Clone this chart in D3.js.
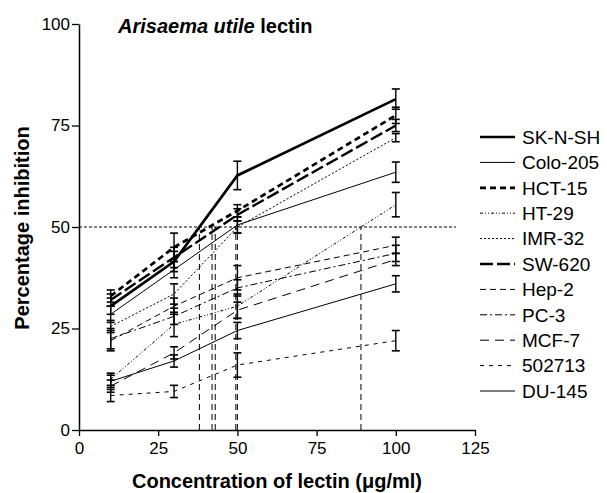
<!DOCTYPE html>
<html>
<head>
<meta charset="utf-8">
<script src="https://cdn.jsdelivr.net/npm/d3@7"></script>
<style>
  body { margin: 0; background: #fff; }
  text { font-family: "Liberation Sans", Arial, sans-serif; }
</style>
</head>
<body>
<div id="chart"></div>
<script>
// concentrations (ug/ml)
var concentrations = [10, 30, 50, 100];
var cellLines = ["SK-N-SH", "Colo-205", "HCT-15", "HT-29", "IMR-32", "SW-620", "Hep-2", "PC-3", "MCF-7", "502713", "DU-145"];
// percentage inhibition per cell line, one value per concentration
var inhibition = [
  [30.5, 41.5, 62.7, 81.5],
  [28.5, 39.5, 50.5, 63.5],
  [33, 45, 54, 77.5],
  [12.5, 26, 30.5, 55.5],
  [25.5, 33.5, 50, 72],
  [32, 42.5, 53, 75],
  [22, 30.5, 37.5, 45.5],
  [22.5, 28, 35, 43.5],
  [10.8, 19, 29.5, 42],
  [8.5, 9.5, 16, 22],
  [12, 17, 24.5, 36]
];
var errors = [
  [2, 2.5, 3.5, 2.5],
  [2, 2, 2, 2.5],
  [1.5, 3.5, 1.5, 2],
  [1.5, 3, 3, 3],
  [1.5, 2.5, 1.5, 1],
  [1.5, 2.5, 1.5, 1.5],
  [2.5, 2, 3, 2],
  [2.5, 2, 2, 2],
  [1.5, 1.5, 2, 1.5],
  [1.5, 1.5, 3, 2.5],
  [1.5, 1.5, 2, 2]
];
// IC50 drop lines
var ic50 = [38, 42, 43, 49.5, 50, 89];
var xTicks = [0, 25, 50, 75, 100, 125];
var yTicks = [0, 25, 50, 75, 100];

var widths = [2.7, 1, 2.7, 1, 1, 2.4, 1, 1, 1, 1, 1];
var dashes = ["none", "none", "6,4", "3,2,1,2,1,2", "2,2", "13,4", "6,4", "7,3,2,3", "9,6", "4,5", "none"];

var width = 607, height = 493;
var svg = d3.select("#chart").append("svg")
  .attr("width", width).attr("height", height);

var xScale = d3.scaleLinear().domain([0, 125]).range([79, 475]);
var yScale = d3.scaleLinear().domain([0, 100]).range([430, 24]);

// reference line at 50%
svg.append("line")
  .attr("x1", xScale(0)).attr("x2", xScale(119))
  .attr("y1", yScale(50)).attr("y2", yScale(50))
  .style("stroke", "#000").style("stroke-width", 1).style("stroke-dasharray", "3,2");

svg.selectAll(".ic").data(ic50).enter().append("line")
  .attr("class", "ic")
  .attr("x1", function(d){ return xScale(d); })
  .attr("x2", function(d){ return xScale(d); })
  .attr("y1", yScale(0)).attr("y2", yScale(50))
  .style("stroke", "#000").style("stroke-width", 1).style("stroke-dasharray", "6,4");

var line = d3.line()
  .x(function(d, i){ return xScale(concentrations[i]); })
  .y(function(d){ return yScale(d); });

// error bars
cellLines.forEach(function(name, s) {
  var g = svg.append("g");
  concentrations.forEach(function(c, i) {
    var v = inhibition[s][i], e = errors[s][i];
    var x = xScale(c);
    g.append("line").attr("x1", x).attr("x2", x)
      .attr("y1", yScale(v - e)).attr("y2", yScale(v + e))
      .style("stroke", "#000").style("stroke-width", 1.4);
    [v - e, v + e].forEach(function(t) {
      g.append("line").attr("x1", x - 4).attr("x2", x + 4)
        .attr("y1", yScale(t)).attr("y2", yScale(t))
        .style("stroke", "#000").style("stroke-width", 1.6);
    });
  });
});

// series lines
svg.selectAll(".series").data(inhibition).enter().append("path")
  .attr("class", "series")
  .attr("d", line)
  .style("fill", "none")
  .style("stroke", "#000")
  .style("stroke-width", function(d, i){ return widths[i]; })
  .style("stroke-dasharray", function(d, i){ return dashes[i]; });

// axes
var xAxis = d3.axisBottom(xScale).tickValues(xTicks).tickSize(6).tickSizeOuter(0);
var yAxis = d3.axisLeft(yScale).tickValues(yTicks).tickSize(7).tickSizeOuter(0);

var gx = svg.append("g").attr("transform", "translate(0," + yScale(0) + ")").call(xAxis);
var gy = svg.append("g").attr("transform", "translate(" + xScale(0) + ",0)").call(yAxis);
[gx, gy].forEach(function(g) {
  g.select(".domain").style("stroke", "#000").style("stroke-width", 1.5);
  g.selectAll(".tick line").style("stroke", "#000").style("stroke-width", 1.3);
  g.selectAll("text").style("font-size", "17px").style("fill", "#000")
    .style("font-family", "'Liberation Sans', Arial, sans-serif");
});
gx.selectAll("text").attr("dy", "0.9em");
gy.selectAll("text").attr("x", -9);

// titles
var title = svg.append("text").attr("x", 118).attr("y", 33)
  .style("font-size", "20px").style("font-weight", "bold");
title.append("tspan").style("font-style", "italic").text("Arisaema utile");
title.append("tspan").text(" lectin");

svg.append("text")
  .attr("text-anchor", "middle")
  .attr("transform", "translate(29," + 228 + ")rotate(-90)")
  .style("font-size", "20px").style("font-weight", "bold")
  .text("Percentage inhibition");

svg.append("text")
  .attr("text-anchor", "middle")
  .attr("x", 277).attr("y", 488)
  .style("font-size", "20px").style("font-weight", "bold")
  .text("Concentration of lectin (\u03bcg/ml)");

// legend
var legend = svg.selectAll(".legend").data(cellLines).enter().append("g")
  .attr("class", "legend")
  .attr("transform", function(d, i){ return "translate(480," + (137 + i * 25.4) + ")"; });

legend.append("line")
  .attr("x1", 0).attr("x2", 35).attr("y1", 0).attr("y2", 0)
  .style("stroke", "#000")
  .style("stroke-width", function(d, i){ return widths[i]; })
  .style("stroke-dasharray", function(d, i){ return dashes[i]; });

legend.append("text")
  .attr("x", 42).attr("y", 0).attr("dy", "0.36em")
  .style("font-size", "19px")
  .text(function(d){ return d; });
</script>
</body>
</html>
